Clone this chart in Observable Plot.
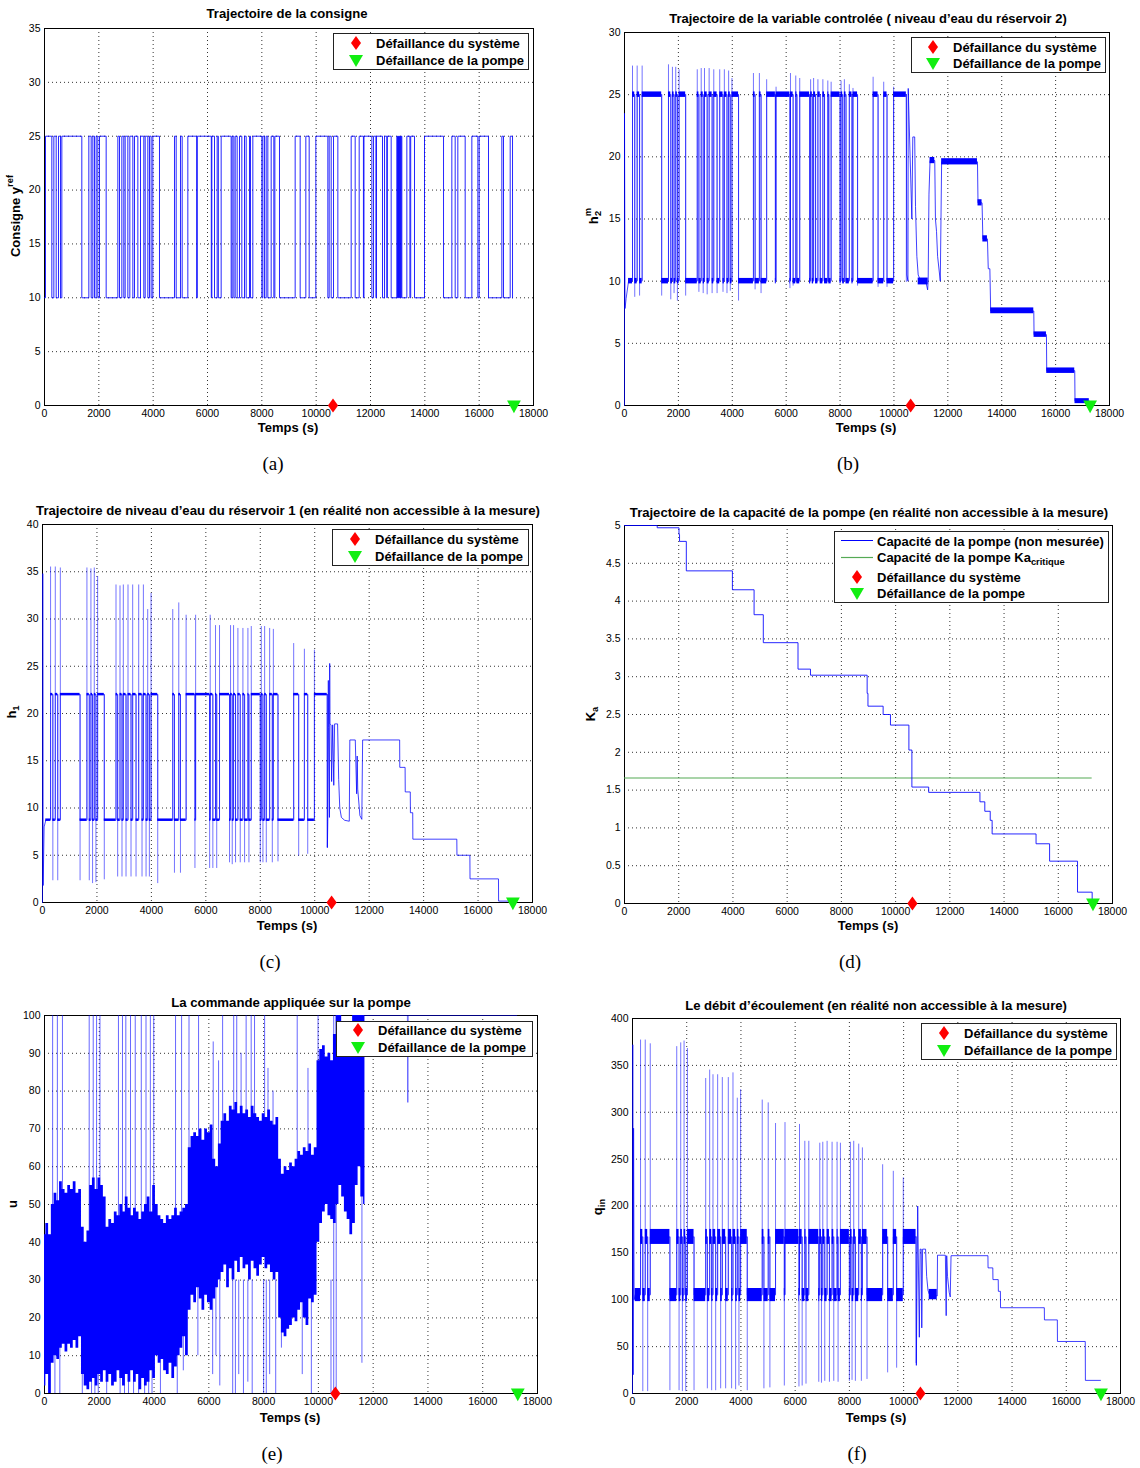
<!DOCTYPE html>
<html>
<head>
<meta charset="utf-8">
<script src="https://cdn.jsdelivr.net/npm/d3@7"></script>
<script src="https://cdn.jsdelivr.net/npm/@observablehq/plot@0.6"></script>
<style>
  html,body{margin:0;padding:0;background:#fff;}
  #page{position:relative;width:1140px;height:1468px;overflow:hidden;background:#fff;}
  #page svg{position:absolute;}
</style>
</head>
<body>
<div id="page"></div>
<script>
// ------------------------------------------------------------------ DATA
const xTickValues = [0,2000,4000,6000,8000,10000,12000,14000,16000,18000];
const failSystemT = 10620;   // Défaillance du système
const failPumpT = 17280;     // Défaillance de la pompe

// (a) consigne : niveaux et intervalles où la consigne vaut 25
const consigneLevels = [10, 25];
const consigneHighStart = [37,344,515,638,1632,1779,1902,2025,2700,2847,2969,3141,3313,3534,3706,3865,3988,4785,5006,5276,5625,6160,6356,6503,6908,7019,7178,7362,7546,7669,8037,8160,8344,8480,9227,9620,9988,10479,10639,11289,11583,11760,12111,12220,12516,12620,12970,13010,13050,13090,13130,13338,13480,13988,14994,15215,15731,16001,16835,17142];
const consigneHighEnd = [270,430,589,1374,1718,1840,1963,2270,2761,2920,3068,3252,3436,3656,3804,3926,4233,4847,5068,5600,6140,6258,6400,6871,6970,7092,7264,7424,7583,8000,8098,8221,8442,8650,9411,9743,10430,10553,10798,11436,11740,12050,12200,12442,12600,12761,12990,13030,13070,13110,13154,13450,13620,14688,15117,15485,15952,16344,16896,17228];
const consigneEndT = 17240;

// instants de commutation des réponses (avant la défaillance du système)
const respHighStart = [297,470,655,1632,1779,1902,2025,2700,2847,2969,3141,3313,3534,3706,3865,3988,4785,5006,5276,5625,6160,6356,6503,6908,7019,7178,7362,7546,7669,8037,8160,8344,8480,9227,9620,9988];
const respHighEnd = [380,560,1380,1718,1840,1963,2270,2761,2920,3068,3252,3436,3656,3804,3926,4233,4847,5068,5600,6140,6258,6400,6871,6970,7092,7264,7424,7583,8000,8098,8221,8442,8650,9411,9743,10460];

// (b) h2^m
const h2Levels = [10, 25];
const h2InitT = [0,0,20,60,150];
const h2InitY = [0,23.5,7.8,8.6,10];
const h2HighBand = [24.78, 25.22];
const h2LowBand = [9.78, 10.22];
const h2RisePeak = [27.3,27.3,27.3,27.4,27.2,27.2,27.0,27.0,27.1,27.1,27.1,27.0,27.0,27.0,26.9,26.3,26.7,26.7,26.2,25.6,26.7,26.5,26.3,26.2,26.3,26.2,26.2,26.1,26.0,26.1,26.2,25.8,25.5,26.4,26.0,25.6];
const h2FallDip = [8.7,8.8,8.8,8.5,9.0,8.4,8.8,9.1,9.0,8.9,9.0,9.0,9.1,9.0,9.2,8.4,9.3,9.0,9.8,9.4,9.6,9.8,9.8,9.8,9.8,9.9,9.9,9.9,9.9,9.9,9.9,9.9,9.6,9.5,9.5,9.9];
const h2LateT = [10460,10480,10520,10530,10600,10665,10700,10770,10800,10850,10900,11000,11200,11250,11270,11300,11340,11515,11540,11580,11620,11720,11770,13100,13120,13270,13300,13470,13500,13560,13590,15190,15200,15660,15670,16710,16720,17250];
const h2LateY = [25,10.5,10,25.5,20,15,21.6,21.6,16,12,10.5,10,9.8,9.3,10,17,19.7,19.7,15,14,12,10,19.6,19.6,16.3,16.3,13.4,13.4,11,11,7.6,7.6,5.7,5.7,2.8,2.8,0.35,0.35];
const h2BandStart = [10900,11340,11770,13120,13300,13590,15200,15670,16720];
const h2BandEnd   = [11270,11515,13100,13270,13470,15190,15660,16710,17250];
const h2BandLo    = [9.7,19.45,19.35,16.05,13.15,7.38,5.48,2.58,0.15];
const h2BandHi    = [10.25,19.95,19.85,16.55,13.65,7.85,5.92,3.02,0.55];

// (c) h1
const h1Levels = [8.7, 22];
const h1InitT = [0,10,25,60,120];
const h1InitY = [0,34.8,1.8,8,8.7];
const h1HighBand = [21.87, 22.13];
const h1LowBand = [8.58, 8.84];
const h1RisePeak = [35.5,35.5,35.4,35.4,35.3,35.4,34.5,33.6,33.5,33.6,33.6,33.6,33.6,33.6,31.0,32.7,31.0,31.7,30.4,30.4,30.4,29.3,29.3,29.3,29.3,29.0,29.0,29.0,29.2,29.2,29.2,29.0,28.9,27.4,26.8,26.7];
const h1FallDip = [2.3,2.3,2.3,2.3,2.0,2.1,2.4,2.7,2.7,2.7,2.7,2.7,2.7,2.7,2.7,2.0,3.1,3.1,3.6,3.6,3.6,3.6,4.2,4.0,4.2,4.2,4.2,4.2,4.2,4.2,4.2,4.2,4.3,4.9,5.1,5.8];
const h1LateT = [10460,10465,10480,10500,10510,10540,10550,10560,10600,10620,10660,10700,10730,10840,10880,10920,10980,11100,11270,11290,11490,11540,11560,11580,11660,11730,11760,13120,13125,13320,13325,13510,13515,13600,13605,15220,15225,15700,15705,16750,16755,17210];
const h1LateY = [22,5.8,8.6,23.5,18.5,9,25.3,18.9,18.8,12.8,18.8,12.4,18.9,18.9,13,10,9.0,8.7,8.6,17.2,17.2,11.5,15.5,12,9.2,8.8,17.2,17.2,14.3,14.3,11.7,11.7,9.5,9.5,6.7,6.7,5.0,5.0,2.5,2.5,0.15,0.15];

// (d) Ka
const kaT = [0,1206,2010,2030,2280,3980,4780,5120,6400,6860,8950,8980,9540,9810,10490,10600,11220,13110,13290,13490,13560,15180,15680,16710,17250];
const kaY = [5.0,4.97,4.88,4.79,4.40,4.15,3.82,3.45,3.10,3.02,2.78,2.61,2.50,2.36,2.03,1.54,1.47,1.345,1.22,1.10,0.92,0.79,0.56,0.15,0.0];
const kaCritique = 1.66;
const kaCritEndT = 17250;

// (e) u : enveloppe de la bande bruitée + pics
const uT = [0,100,200,300,400,500,600,700,800,900,1000,1100,1200,1300,1400,1500,1600,1700,1800,1900,2000,2100,2200,2300,2400,2500,2600,2700,2800,2900,3000,3100,3200,3300,3400,3500,3600,3700,3800,3900,4000,4100,4200,4300,4400,4500,4600,4700,4800,4900,5000,5100,5200,5300,5400,5500,5600,5700,5800,5900,6000,6100,6200,6300,6400,6500,6600,6700,6800,6900,7000,7100,7200,7300,7400,7500,7600,7700,7800,7900,8000,8100,8200,8300,8400,8500,8600,8700,8800,8900,9000,9100,9200,9300,9400,9500,9600,9700,9800,9900,10000,10100,10200,10300,10400,10500,10600,10700,10800,10900,11000,11100,11200,11300,11400,11500,11600,11700];
const uHi = [42,45,42,50,53,51,56,54,53,55,54,56,53,54,44,40,43,55,57,54,57,55,52,44,46,45,48,47,50,48,52,49,47,49,48,46,48,50,52,48,55,50,47,46,45,47,46,47,49,47,48,49,50,65,68,69,68,70,67,70,69,71,62,60,66,72,74,72,76,75,77,74,76,74,75,73,76,74,73,72,74,73,75,72,71,73,62,58,60,59,61,60,62,64,63,65,64,66,63,65,88,91,92,89,90,88,95,100,100,98,96,97,95,100,100,100,100,100];
const uLo = [2,5,0,8,10,9,12,13,11,13,12,14,12,15,5,2,1,3,4,2,5,3,6,3,5,2,3,6,4,2,5,3,6,3,5,1,4,2,3,6,4,10,8,9,6,5,8,4,7,10,12,15,10,22,26,24,28,25,22,26,24,22,25,28,30,32,34,28,33,30,35,32,36,33,34,30,35,33,31,34,36,33,34,32,30,32,20,16,15,17,18,20,19,22,24,20,18,25,24,26,40,45,48,50,47,46,45,50,55,52,48,46,42,45,55,60,52,50];
const uRisePeak = [100,100,100,100,100,100,100,100,100,100,100,100,100,100,100,100,100,100,100,100,93,88,100,100,100,90,100,100,100,100,86,80,73,100,86,100];
const uFallDip = [0,0,0,0,0,0,0,0,0,0,0,0,0,0,0,0,0,6,10,5,10,2,0,0,5,0,3,0,0,0,5,0,12,5,0,0];
const uExtraT = [10560,10650,11590];
const uExtraLo = [0,0,8];
const uExtraHi = [100,100,60];
const uLateT = [11700,13250,13265,13280,17240];
const uLateY = [100,100,77,100,100];

// (f) q_in
const qLevels = [105, 167];
const qInitT = [0,10,25,40,60,100];
const qInitY = [0,372,20,283,100,105];
const qHighBand = [159, 175];
const qLowBand = [98, 112];
const qRisePeak = [377,377,373,370,374,376,368,336,345,340,340,337,337,342,315,324,313,310,288,289,287,269,269,267,268,269,268,268,267,268,269,266,262,244,237,230];
const qFallDip = [2,2,3,3,2,2,3,5,3,3,5,5,5,4,8,3,5,6,8,7,8,10,12,11,13,12,13,12,13,14,13,13,15,22,27,32];
const qLateT = [10460,10470,10490,10520,10540,10580,10610,10650,10670,10700,10810,10850,10900,10945,11240,11250,11540,11570,11590,11620,11680,11720,11750,13110,13115,13290,13295,13490,13495,13570,13575,15190,15195,15670,15675,16700,16705,17260];
const qLateY = [167,30,105,200,150,60,154,154,70,154,154,125,110,106,104,147.5,147.5,83,147,125,108,103,147,147,134,134,121.5,121.5,109,109,91.5,91.5,78.5,78.5,55.5,55.5,14,14];
const qBandStart = [10945];
const qBandEnd = [11240];
const qBandLo = [100];
const qBandHi = [111];

// ------------------------------------------------------------------ HELPERS
const SANS = "'Liberation Sans', Arial, Helvetica, sans-serif";
const BLUE = "#0000ff";
const page = document.getElementById("page");

const diamondSymbol = {draw(ctx, size){ const r = Math.sqrt(size/Math.PI); ctx.moveTo(0,-1.15*r); ctx.lineTo(0.85*r,0); ctx.lineTo(0,1.15*r); ctx.lineTo(-0.85*r,0); ctx.closePath(); }};
const triDownSymbol = {draw(ctx, size){ const r = Math.sqrt(size/Math.PI); ctx.moveTo(-1.15*r,-0.85*r); ctx.lineTo(1.15*r,-0.85*r); ctx.lineTo(0,1.3*r); ctx.closePath(); }};

const zip = (T, Y) => T.map((t, i) => ({t, v: Y[i]}));

function stepSeries(starts, ends, lo, hi, t0) {
  const pts = [{t: t0, v: lo}];
  starts.forEach((s, i) => { pts.push({t: s, v: hi}); if (i < starts.length - 1) pts.push({t: ends[i], v: lo}); });
  pts.push({t: ends[ends.length - 1], v: hi});
  return pts;
}
function bandRects(starts, ends, t0, loBand, hiBand) {
  const r = [{x1: t0, x2: starts[0], y1: loBand[0], y2: loBand[1]}];
  starts.forEach((s, i) => {
    r.push({x1: s, x2: ends[i], y1: hiBand[0], y2: hiBand[1]});
    if (i < starts.length - 1) r.push({x1: ends[i], x2: starts[i + 1], y1: loBand[0], y2: loBand[1]});
  });
  return r;
}
function spikes(starts, ends, lo, hi, peaks, dips) {
  const r = [];
  starts.forEach((s, i) => {
    r.push({t: s, y1: lo, y2: peaks[i]});
    r.push({t: ends[i], y1: hi, y2: dips[i]});
  });
  return r;
}

function buildPanel(p, marks) {
  const mL = 40, mR = 30, mT = 14, mB = 24;
  const w = p.x1 - p.x0, h = p.y1 - p.y0;
  const chart = Plot.plot({
    width: w + mL + mR, height: h + mT + mB,
    marginLeft: mL, marginRight: mR, marginTop: mT, marginBottom: mB,
    style: {background: "transparent", fontFamily: SANS, fontSize: "10.5px", color: "#000", overflow: "visible"},
    x: {domain: [0, 18000], ticks: xTickValues, tickFormat: d => String(d), tickSize: 0, tickPadding: 4, label: null},
    y: {domain: p.yDomain, ticks: p.yTicks, tickFormat: d => String(d), tickSize: 0, tickPadding: 4, label: null},
    marks: [
      Plot.ruleX(xTickValues.slice(1, -1), {x: d => d, stroke: "#000", strokeOpacity: 0.8, strokeDasharray: "1,3"}),
      Plot.ruleY(p.yTicks.slice(1, -1), {y: d => d, stroke: "#000", strokeOpacity: 0.8, strokeDasharray: "1,3"}),
      Plot.frame({stroke: "#000"}),
      ...marks,
      Plot.dot([{t: failSystemT, v: 0}], {x: "t", y: "v", symbol: diamondSymbol, r: 6, fill: "#ff0000", stroke: "none"}),
      Plot.dot([{t: failPumpT, v: 0}], {x: "t", y: "v", symbol: triDownSymbol, r: 6, fill: "#11ee11", stroke: "none"})
    ]
  });
  chart.style.left = (p.x0 - mL) + "px";
  chart.style.top = (p.y0 - mT) + "px";
  page.appendChild(chart);
}

// ------------------------------------------------------------------ (a)
{
  const data = [{t: 0, v: consigneLevels[0]}];
  consigneHighStart.forEach((s, i) => { data.push({t: s, v: consigneLevels[1]}, {t: consigneHighEnd[i], v: consigneLevels[0]}); });
  data.push({t: consigneEndT, v: consigneLevels[0]});
  buildPanel({x0: 44, x1: 533, y0: 28, y1: 405, yDomain: [0, 35], yTicks: [0,5,10,15,20,25,30,35]}, [
    Plot.line(data, {x: "t", y: "v", curve: "step-after", stroke: BLUE, strokeWidth: 1, strokeOpacity: 0.85})
  ]);
}

// ------------------------------------------------------------------ (b)
{
  const step = stepSeries(respHighStart, respHighEnd, h2Levels[0], h2Levels[1], h2InitT[h2InitT.length - 1]);
  const bands = bandRects(respHighStart, respHighEnd, h2InitT[h2InitT.length - 1], h2LowBand, h2HighBand);
  const sp = spikes(respHighStart, respHighEnd, h2Levels[0], h2Levels[1], h2RisePeak, h2FallDip);
  const late = zip(h2LateT, h2LateY);
  const lateBands = h2BandStart.map((s, i) => ({x1: s, x2: h2BandEnd[i], y1: h2BandLo[i], y2: h2BandHi[i]}));
  buildPanel({x0: 624, x1: 1109, y0: 32, y1: 405, yDomain: [0, 30], yTicks: [0,5,10,15,20,25,30]}, [
    Plot.line(zip(h2InitT, h2InitY), {x: "t", y: "v", stroke: BLUE, strokeWidth: 1, strokeOpacity: 0.7}),
    Plot.ruleX(sp, {x: "t", y1: "y1", y2: "y2", stroke: BLUE, strokeWidth: 1, strokeOpacity: 0.55}),
    Plot.line(step, {x: "t", y: "v", curve: "step-after", stroke: BLUE, strokeWidth: 1, strokeOpacity: 0.6}),
    Plot.rect(bands, {x1: "x1", x2: "x2", y1: "y1", y2: "y2", fill: BLUE}),
    Plot.line(late, {x: "t", y: "v", stroke: BLUE, strokeWidth: 1, strokeOpacity: 0.75}),
    Plot.rect(lateBands, {x1: "x1", x2: "x2", y1: "y1", y2: "y2", fill: BLUE})
  ]);
}

// ------------------------------------------------------------------ (c)
{
  const step = stepSeries(respHighStart, respHighEnd, h1Levels[0], h1Levels[1], h1InitT[h1InitT.length - 1]);
  const bands = bandRects(respHighStart, respHighEnd, h1InitT[h1InitT.length - 1], h1LowBand, h1HighBand);
  const sp = spikes(respHighStart, respHighEnd, h1Levels[0], h1Levels[1], h1RisePeak, h1FallDip);
  buildPanel({x0: 42, x1: 532, y0: 524, y1: 902, yDomain: [0, 40], yTicks: [0,5,10,15,20,25,30,35,40]}, [
    Plot.line(zip(h1InitT, h1InitY), {x: "t", y: "v", stroke: BLUE, strokeWidth: 1, strokeOpacity: 0.7}),
    Plot.ruleX(sp, {x: "t", y1: "y1", y2: "y2", stroke: BLUE, strokeWidth: 1, strokeOpacity: 0.55}),
    Plot.line(step, {x: "t", y: "v", curve: "step-after", stroke: BLUE, strokeWidth: 1, strokeOpacity: 0.6}),
    Plot.rect(bands, {x1: "x1", x2: "x2", y1: "y1", y2: "y2", fill: BLUE}),
    Plot.line(zip(h1LateT, h1LateY), {x: "t", y: "v", stroke: BLUE, strokeWidth: 1, strokeOpacity: 0.75})
  ]);
}

// ------------------------------------------------------------------ (d)
buildPanel({x0: 624, x1: 1112, y0: 525, y1: 903, yDomain: [0, 5], yTicks: [0,0.5,1,1.5,2,2.5,3,3.5,4,4.5,5]}, [
  Plot.ruleY([kaCritique], {y: d => d, x1: 0, x2: kaCritEndT, stroke: "#55aa55", strokeWidth: 1.2}),
  Plot.line(zip(kaT, kaY), {x: "t", y: "v", curve: "step-after", stroke: BLUE, strokeWidth: 1, strokeOpacity: 0.85})
]);

// ------------------------------------------------------------------ (e)
{
  const band = uT.map((t, i) => ({t, lo: uLo[i], hi: uHi[i]}));
  const sp = [];
  respHighStart.forEach((s, i) => { sp.push({t: s, y1: 40, y2: uRisePeak[i]}); sp.push({t: respHighEnd[i], y1: 30, y2: uFallDip[i]}); });
  uExtraT.forEach((t, i) => sp.push({t, y1: uExtraLo[i], y2: uExtraHi[i]}));
  buildPanel({x0: 44, x1: 537, y0: 1015, y1: 1393, yDomain: [0, 100], yTicks: [0,10,20,30,40,50,60,70,80,90,100]}, [
    Plot.ruleX(sp, {x: "t", y1: "y1", y2: "y2", stroke: BLUE, strokeWidth: 1, strokeOpacity: 0.6}),
    Plot.areaY(band, {x: "t", y1: "lo", y2: "hi", fill: BLUE, curve: "step"}),
    Plot.line(zip(uLateT, uLateY), {x: "t", y: "v", stroke: BLUE, strokeWidth: 1, strokeOpacity: 0.5})
  ]);
}

// ------------------------------------------------------------------ (f)
{
  const step = stepSeries(respHighStart, respHighEnd, qLevels[0], qLevels[1], qInitT[qInitT.length - 1]);
  const bands = bandRects(respHighStart, respHighEnd, qInitT[qInitT.length - 1], qLowBand, qHighBand);
  const sp = spikes(respHighStart, respHighEnd, qLevels[0], qLevels[1], qRisePeak, qFallDip);
  const lateBands = qBandStart.map((s, i) => ({x1: s, x2: qBandEnd[i], y1: qBandLo[i], y2: qBandHi[i]}));
  buildPanel({x0: 632, x1: 1120, y0: 1018, y1: 1393, yDomain: [0, 400], yTicks: [0,50,100,150,200,250,300,350,400]}, [
    Plot.line(zip(qInitT, qInitY), {x: "t", y: "v", stroke: BLUE, strokeWidth: 1, strokeOpacity: 0.7}),
    Plot.ruleX(sp, {x: "t", y1: "y1", y2: "y2", stroke: BLUE, strokeWidth: 1, strokeOpacity: 0.55}),
    Plot.line(step, {x: "t", y: "v", curve: "step-after", stroke: BLUE, strokeWidth: 1, strokeOpacity: 0.6}),
    Plot.rect(bands, {x1: "x1", x2: "x2", y1: "y1", y2: "y2", fill: BLUE}),
    Plot.line(zip(qLateT, qLateY), {x: "t", y: "v", stroke: BLUE, strokeWidth: 1, strokeOpacity: 0.75}),
    Plot.rect(lateBands, {x1: "x1", x2: "x2", y1: "y1", y2: "y2", fill: BLUE})
  ]);
}

// ------------------------------------------------------------------ TEXT, LEGENDS
const overlay = d3.select(page).append("svg")
  .attr("width", 1140).attr("height", 1468)
  .style("left", "0px").style("top", "0px").style("pointer-events", "none");

function label(x, y, parts, o = {}) {
  const size = o.size || 12.5;
  const g = overlay.append("g").attr("transform", `translate(${x},${y}) rotate(${o.rotate || 0})`);
  const t = g.append("text")
    .attr("text-anchor", o.anchor || "middle")
    .attr("dominant-baseline", "central")
    .attr("font-family", o.family || SANS)
    .attr("font-weight", o.weight || "bold")
    .attr("font-size", size)
    .attr("fill", "#000");
  for (const p of parts) {
    const [s, kind, extra] = Array.isArray(p) ? p : [p, null, 0];
    const ts = t.append("tspan").text(s);
    if (kind === "sup") ts.attr("font-size", size * 0.72).attr("dy", -size * 0.42).attr("dx", extra || 0);
    else if (kind === "sub") ts.attr("font-size", size * 0.72).attr("dy", size * (extra ? 0.84 : 0.42)).attr("dx", extra ? -size * 0.62 : 0);
  }
  if (o.fit) {
    const w = t.node().getComputedTextLength();
    if (w > 0) t.attr("font-size", size * o.fit / w);
  }
  return t;
}

// titles
label(287, 13, ["Trajectoire de la consigne"], {fit: 161});
label(868, 18, ["Trajectoire de la variable controlée ( niveau d’eau du réservoir 2)"], {fit: 398});
label(288, 510, ["Trajectoire de niveau d’eau du réservoir 1 (en réalité non accessible à la mesure)"], {fit: 504});
label(869, 512, ["Trajectoire de la capacité de la pompe (en réalité non accessible à la mesure)"], {fit: 479});
label(291, 1002, ["La commande appliquée sur la pompe"], {fit: 240});
label(876, 1005, ["Le débit d’écoulement (en réalité non accessible à la mesure)"], {fit: 382});

// x labels
[[288, 427], [866, 427], [287, 925], [868, 925], [290, 1417], [876, 1417]].forEach(([x, y]) => label(x, y, ["Temps (s)"], {size: 13}));

// y labels
label(15, 216, ["Consigne y", ["ref", "sup"]], {rotate: -90, size: 13});
label(593, 216, ["h", ["m", "sup"], ["2", "sub", 1]], {rotate: -90, size: 13});
label(11, 712, ["h", ["1", "sub"]], {rotate: -90, size: 13});
label(590, 714, ["K", ["a", "sub"]], {rotate: -90, size: 13});
label(12, 1204, ["u"], {rotate: -90, size: 13});
label(597, 1207, ["q", ["in", "sub"]], {rotate: -90, size: 13});

// captions
[[273, 463, "(a)"], [848, 463, "(b)"], [270, 961, "(c)"], [850, 961, "(d)"], [272, 1453, "(e)"], [857, 1453, "(f)"]]
  .forEach(([x, y, s]) => label(x, y, [s], {family: "'Liberation Serif', 'DejaVu Serif', serif", weight: "normal", size: 19}));

// legends
function legendBox(x, y, w, h) {
  overlay.append("rect").attr("x", x + 0.5).attr("y", y + 0.5).attr("width", w).attr("height", h)
    .attr("fill", "#fff").attr("stroke", "#222").attr("stroke-width", 1);
}
function legDiamond(cx, cy) {
  overlay.append("path").attr("d", `M${cx},${cy - 7}L${cx + 5},${cy}L${cx},${cy + 7}L${cx - 5},${cy}Z`).attr("fill", "#ff0000");
}
function legTri(cx, cy) {
  overlay.append("path").attr("d", `M${cx - 7},${cy - 5}L${cx + 7},${cy - 5}L${cx},${cy + 7}Z`).attr("fill", "#11ee11");
}
const LEG = 13;
function stdLegend(bx, by, bw, bh, sx, y1, y2, tx) {
  legendBox(bx, by, bw, bh);
  legDiamond(sx, y1); legTri(sx, y2);
  label(tx, y1, ["Défaillance du système"], {anchor: "start", size: LEG});
  label(tx, y2, ["Défaillance de la pompe"], {anchor: "start", size: LEG});
}
stdLegend(333, 33, 195, 36, 356, 43, 60, 376);
stdLegend(911, 37, 194, 35, 933, 47, 63, 953);
stdLegend(332, 529, 196, 36, 355, 539, 556, 375);
stdLegend(336, 1021, 196, 35, 358, 1030, 1047, 378);
stdLegend(921, 1023, 195, 36, 944, 1033, 1050, 964);

legendBox(834, 531, 274, 71);
overlay.append("line").attr("x1", 841).attr("x2", 873).attr("y1", 540.5).attr("y2", 540.5).attr("stroke", BLUE).attr("stroke-width", 1);
overlay.append("line").attr("x1", 841).attr("x2", 873).attr("y1", 557.5).attr("y2", 557.5).attr("stroke", "#55aa55").attr("stroke-width", 1.2);
label(877, 541, ["Capacité de la pompe (non mesurée)"], {anchor: "start", size: LEG});
label(877, 557, ["Capacité de la pompe Ka", ["critique", "sub"]], {anchor: "start", size: LEG});
legDiamond(857, 577); legTri(857, 593);
label(877, 577, ["Défaillance du système"], {anchor: "start", size: LEG});
label(877, 593, ["Défaillance de la pompe"], {anchor: "start", size: LEG});
</script>
</body>
</html>
